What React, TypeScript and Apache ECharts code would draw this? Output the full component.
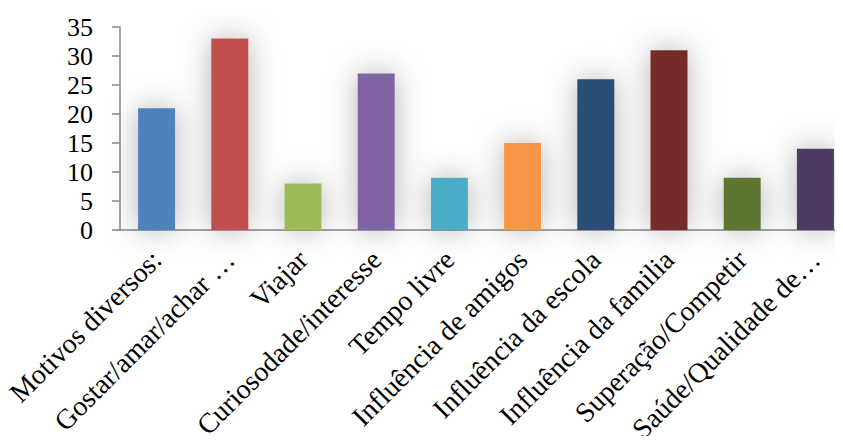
import React, { useEffect, useRef } from "react";
import * as echarts from "echarts";

const categories = [
  "Motivos diversos:",
  "Gostar/amar/achar …",
  "Viajar",
  "Curiosodade/interesse",
  "Tempo livre",
  "Influência de amigos",
  "Influência da escola",
  "Influência da familia",
  "Superação/Competir",
  "Saúde/Qualidade de…",
];
const values = [21, 33, 8, 27, 9, 15, 26, 31, 9, 14];
const colors = [
  "#4F81BD",
  "#C0504D",
  "#9BBB59",
  "#8064A2",
  "#4BACC6",
  "#F79646",
  "#2C4D75",
  "#772C2A",
  "#5F7530",
  "#4D3B62",
];

const FONT = "Liberation Serif";

export default function App() {
  const ref = useRef<HTMLDivElement>(null);
  useEffect(() => {
    if (!ref.current) return;
    const chart = echarts.init(ref.current, undefined, { renderer: "svg" });
    chart.setOption({
      animation: false,
      grid: {
        left: 120,
        top: 27,
        bottom: 214,
        width: 732,
        outerBoundsMode: "none",
        containLabel: false,
      },
      xAxis: {
        type: "category",
        data: categories,
        axisLine: { lineStyle: { color: "#878787", width: 1.5 } },
        axisTick: { length: 8, lineStyle: { color: "#878787", width: 1.5 } },
        axisLabel: {
          rotate: 45,
          interval: 0,
          margin: 25,
          padding: [16, 0, 0, 0],
          fontFamily: FONT,
          fontSize: 28,
          color: "#000",
        },
      },
      yAxis: {
        type: "value",
        min: 0,
        max: 35,
        interval: 5,
        splitLine: { show: false },
        axisLine: { show: true, lineStyle: { color: "#878787", width: 1.5 } },
        axisTick: { show: true, length: 8, lineStyle: { color: "#878787", width: 1.5 } },
        axisLabel: {
          margin: 27,
          fontFamily: FONT,
          fontSize: 26,
          color: "#000",
        },
      },
      series: [
        {
          type: "bar",
          barWidth: 37,
          data: values.map((v, i) => ({
            value: v,
            itemStyle: {
              color: colors[i],
              shadowBlur: 30,
              shadowColor: "rgba(0,0,0,0.3)",
              shadowOffsetX: 0,
              shadowOffsetY: 0,
            },
          })),
        },
      ],
    });
    return () => chart.dispose();
  }, []);
  return <div ref={ref} style={{ width: 843, height: 444, margin: -8 }} />;
}
